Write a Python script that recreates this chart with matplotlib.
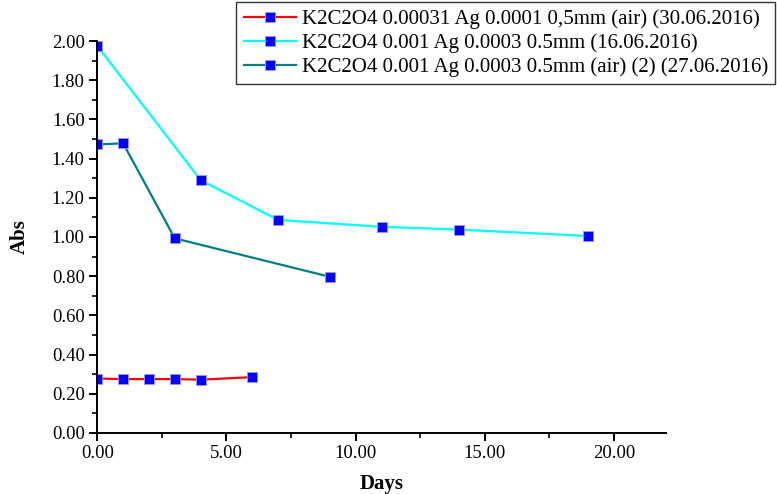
import matplotlib
matplotlib.use('Agg')
import matplotlib.pyplot as plt
import matplotlib.ticker as ticker

# data
days_a = [0, 1, 2, 3, 4, 6]
abs_a = [0.278, 0.275, 0.275, 0.275, 0.272, 0.285]
label_a = 'K2C2O4 0.00031 Ag 0.0001 0,5mm (air) (30.06.2016)'

days_b = [0, 4, 7, 11, 14, 19]
abs_b = [1.975, 1.29, 1.087, 1.052, 1.038, 1.005]
label_b = 'K2C2O4 0.001 Ag 0.0003 0.5mm (16.06.2016)'

days_c = [0, 1, 3, 9]
abs_c = [1.472, 1.478, 0.993, 0.797]
label_c = 'K2C2O4 0.001 Ag 0.0003 0.5mm (air) (2) (27.06.2016)'

plt.rcParams['font.family'] = ['Liberation Serif', 'DejaVu Serif']

fig = plt.figure(figsize=(7.77, 4.94), dpi=100)
ax = fig.add_axes([0.1252, 0.1235, 0.7316, 0.7935])

mk = dict(marker='s', markersize=7.8, markerfacecolor='#0000FF',
          markeredgecolor='#9999ff', markeredgewidth=0.6, linewidth=1.6)
ax.plot(days_a, abs_a, color='#FF0000', label=label_a, **mk)
ax.plot(days_b, abs_b, color='#00FFFF', label=label_b, **mk)
ax.plot(days_c, abs_c, color='#008080', label=label_c, **mk)

ax.set_xlim(0, 22)
ax.set_ylim(0, 2.0)
ax.xaxis.set_major_locator(ticker.MultipleLocator(5))
ax.xaxis.set_minor_locator(ticker.MultipleLocator(2.5))
ax.yaxis.set_major_locator(ticker.MultipleLocator(0.2))
ax.yaxis.set_minor_locator(ticker.MultipleLocator(0.1))
ax.xaxis.set_major_formatter(ticker.FormatStrFormatter('%.2f'))
ax.yaxis.set_major_formatter(ticker.FormatStrFormatter('%.2f'))

for s in ['top', 'right']:
    ax.spines[s].set_visible(False)
for s in ['left', 'bottom']:
    ax.spines[s].set_linewidth(1.4)
ax.tick_params(which='major', direction='out', length=6, width=1.4, labelsize=13.5, pad=3)
ax.tick_params(which='minor', direction='out', length=3.5, width=1.2)

ax.set_xlabel('Days', fontsize=15, fontweight='bold', labelpad=8)
ax.set_ylabel('Abs', fontsize=15, fontweight='bold', labelpad=16)

leg = fig.legend(loc='upper right', bbox_to_anchor=(0.998, 0.996), fontsize=15,
                 frameon=True, fancybox=False, handlelength=2.5, handletextpad=0.3,
                 borderpad=0.35, labelspacing=0.2, borderaxespad=0)
leg.get_frame().set_edgecolor('black')
leg.get_frame().set_linewidth(1.0)

plt.savefig('out.png', dpi=100)
